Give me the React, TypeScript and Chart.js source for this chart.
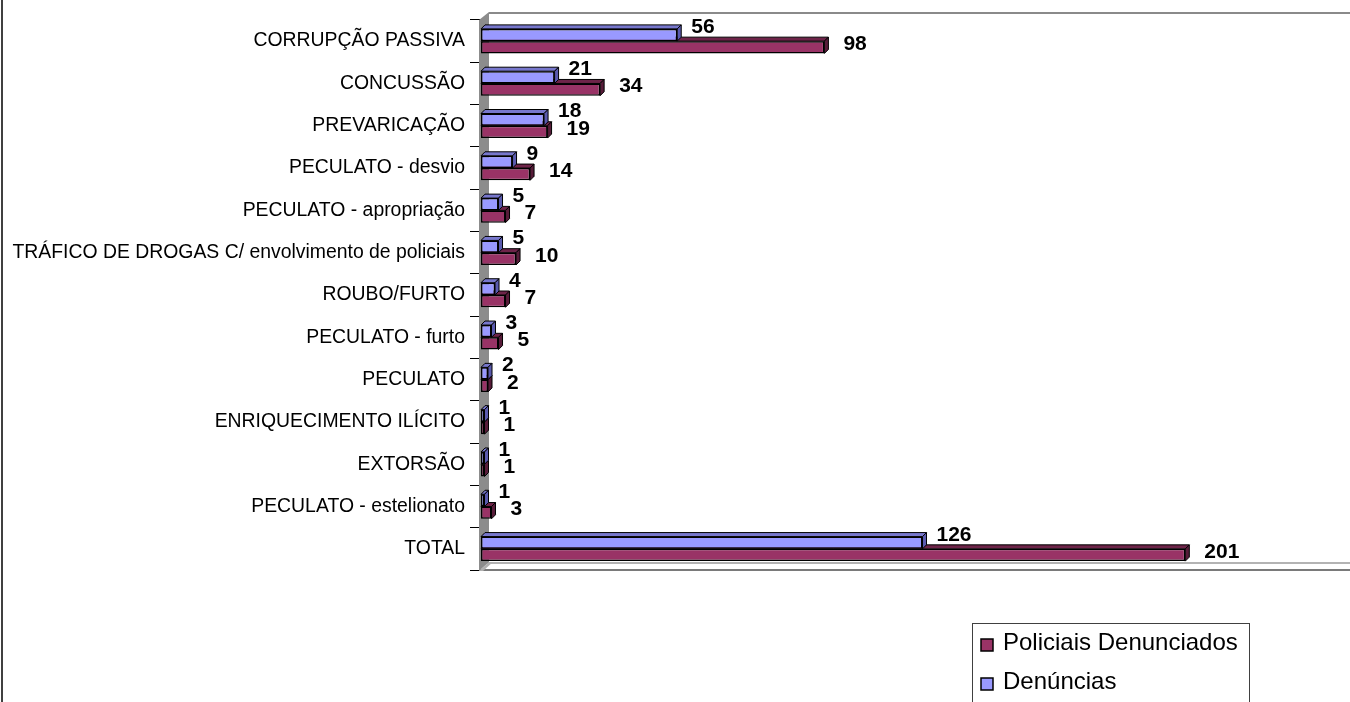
import React, { useEffect, useRef } from 'react';
import { Chart, registerables } from 'chart.js';

Chart.register(...registerables);

const categories = [
  'CORRUPÇÃO PASSIVA',
  'CONCUSSÃO',
  'PREVARICAÇÃO',
  'PECULATO - desvio',
  'PECULATO - apropriação',
  'TRÁFICO DE DROGAS C/ envolvimento de policiais',
  'ROUBO/FURTO',
  'PECULATO - furto',
  'PECULATO',
  'ENRIQUECIMENTO ILÍCITO',
  'EXTORSÃO',
  'PECULATO - estelionato',
  'TOTAL',
];
const denuncias = [56, 21, 18, 9, 5, 5, 4, 3, 2, 1, 1, 1, 126];
const policiais = [98, 34, 19, 14, 7, 10, 7, 5, 2, 1, 1, 3, 201];
const seriesNames = ['Denúncias', 'Policiais Denunciados'];
const legendOrder = [1, 0];
const xMax = 248;

const FONT = '"Liberation Sans", Arial, Helvetica, sans-serif';
const front = ['#9999FF', '#993366'];
const topFace = ['#7777CC', '#6E2449'];
const sideFace = ['#5A5AAE', '#571C39'];
const DEPTH = 4;

const decorPlugin = {
  id: 'decor',
  beforeDraw(chart: any) {
    const ctx = chart.ctx;
    ctx.save();
    ctx.fillStyle = '#ffffff';
    ctx.fillRect(0, 0, chart.width, chart.height);
    ctx.fillStyle = '#404040';
    ctx.fillRect(1, 0, 2, chart.height);
    ctx.restore();
  },
  beforeDatasetsDraw(chart: any) {
    const ctx = chart.ctx;
    const a = chart.chartArea;
    ctx.save();
    ctx.strokeStyle = '#8a8a8a';
    ctx.lineWidth = 2;
    ctx.beginPath();
    ctx.moveTo(a.left + 8, a.top - 7);
    ctx.lineTo(a.right, a.top - 7);
    ctx.stroke();
    ctx.strokeStyle = '#9a9a9a';
    ctx.lineWidth = 1.5;
    ctx.beginPath();
    ctx.moveTo(a.left + 6, a.bottom - 7);
    ctx.lineTo(a.right, a.bottom - 7);
    ctx.stroke();
    ctx.strokeStyle = '#7a7a7a';
    ctx.lineWidth = 2;
    ctx.beginPath();
    ctx.moveTo(a.left - 2, a.bottom);
    ctx.lineTo(a.right, a.bottom);
    ctx.stroke();
    ctx.fillStyle = '#8c8c8c';
    ctx.beginPath();
    ctx.moveTo(a.left - 2, a.top);
    ctx.lineTo(a.left + 8, a.top - 8);
    ctx.lineTo(a.left + 8, a.bottom - 8);
    ctx.lineTo(a.left - 2, a.bottom + 1);
    ctx.closePath();
    ctx.fill();
    ctx.fillStyle = '#b0b0b0';
    ctx.beginPath();
    ctx.moveTo(a.left - 2, a.bottom + 1);
    ctx.lineTo(a.left + 8, a.bottom - 8);
    ctx.lineTo(a.left + 12, a.bottom - 8);
    ctx.lineTo(a.left + 2, a.bottom + 1);
    ctx.closePath();
    ctx.fill();

    [1, 0].forEach((di) => {
      const meta = chart.getDatasetMeta(di);
      meta.data.forEach((el: any) => {
        const p = el.getProps(['x', 'y', 'base', 'height'], true);
        const t = p.y - p.height / 2;
        const b = p.y + p.height / 2;
        ctx.lineWidth = 1;
        ctx.strokeStyle = '#000';
        ctx.fillStyle = topFace[di];
        ctx.beginPath();
        ctx.moveTo(p.base, t);
        ctx.lineTo(p.base + DEPTH, t - DEPTH);
        ctx.lineTo(p.x + DEPTH, t - DEPTH);
        ctx.lineTo(p.x, t);
        ctx.closePath();
        ctx.fill();
        ctx.stroke();
        ctx.fillStyle = sideFace[di];
        ctx.beginPath();
        ctx.moveTo(p.x, t);
        ctx.lineTo(p.x + DEPTH, t - DEPTH);
        ctx.lineTo(p.x + DEPTH, b - DEPTH);
        ctx.lineTo(p.x, b);
        ctx.closePath();
        ctx.fill();
        ctx.stroke();
      });
    });
    ctx.restore();
  },
  afterDatasetsDraw(chart: any) {
    const ctx = chart.ctx;
    ctx.save();
    ctx.font = `bold 21px ${FONT}`;
    ctx.fillStyle = '#000';
    ctx.textAlign = 'left';
    ctx.textBaseline = 'middle';
    const dxs = [14, 19];
    const dys = [-8, -3];
    [0, 1].forEach((di) => {
      const meta = chart.getDatasetMeta(di);
      const vals = chart.data.datasets[di].data;
      meta.data.forEach((el: any, i: number) => {
        const p = el.getProps(['x', 'y'], true);
        ctx.fillText(String(vals[i]), p.x + dxs[di], p.y + dys[di]);
      });
    });

    const lx = 972;
    const ly = 623;
    ctx.strokeStyle = '#404040';
    ctx.lineWidth = 1;
    ctx.strokeRect(lx + 0.5, ly + 0.5, 277, chart.height - ly + 5);
    ctx.font = `24px ${FONT}`;
    legendOrder.forEach((di, k) => {
      const cy = 645 + k * 39;
      ctx.fillStyle = front[di];
      ctx.fillRect(lx + 9, cy - 6, 12, 12);
      ctx.strokeStyle = '#000';
      ctx.lineWidth = 1.5;
      ctx.strokeRect(lx + 9, cy - 6, 12, 12);
      ctx.fillStyle = '#000';
      ctx.textBaseline = 'middle';
      ctx.fillText(seriesNames[di], lx + 31, cy - 2);
    });
    ctx.restore();
  },
};

export default function App() {
  const ref = useRef<HTMLCanvasElement | null>(null);
  useEffect(() => {
    document.body.style.margin = '0';
    const canvas = ref.current;
    if (!canvas) return;
    const chart = new Chart(canvas, {
      type: 'bar',
      data: {
        labels: categories,
        datasets: [
          {
            label: seriesNames[0],
            data: denuncias,
            backgroundColor: front[0],
            borderColor: '#000',
            borderWidth: 1.5,
            borderSkipped: false,
          },
          {
            label: seriesNames[1],
            data: policiais,
            backgroundColor: front[1],
            borderColor: '#000',
            borderWidth: 1.5,
            borderSkipped: false,
          },
        ],
      },
      options: {
        indexAxis: 'y',
        animation: false,
        responsive: true,
        maintainAspectRatio: false,
        layout: { padding: { top: 20, bottom: 132, left: 0, right: 0 } },
        datasets: { bar: { barPercentage: 1, categoryPercentage: 0.58 } },
        plugins: {
          legend: { display: false },
          tooltip: { enabled: false },
        },
        scales: {
          x: { display: false, min: 0, max: xMax },
          y: {
            afterFit: (s: any) => {
              s.width = 481;
            },
            border: { display: false },
            grid: {
              display: true,
              drawOnChartArea: false,
              drawTicks: true,
              tickLength: 11,
              color: '#000',
              lineWidth: 1,
            },
            ticks: {
              color: '#000',
              padding: 5,
              font: { family: FONT, size: 19.4 },
              autoSkip: false,
            },
          },
        },
      },
      plugins: [decorPlugin],
    });
    return () => chart.destroy();
  }, []);
  return (
    <div style={{ position: 'relative', width: 1350, height: 702 }}>
      <canvas ref={ref} style={{ display: 'block' }} />
    </div>
  );
}
